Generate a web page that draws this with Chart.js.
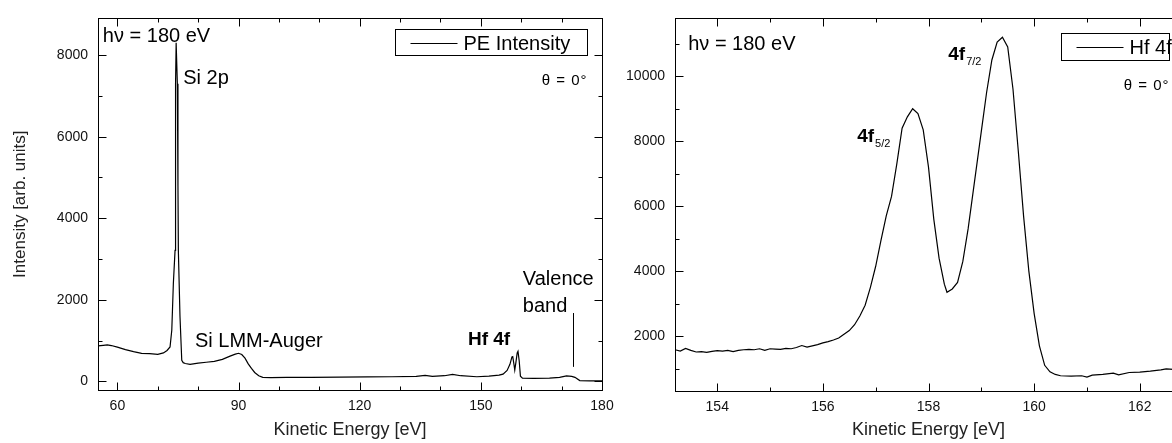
<!DOCTYPE html>
<html>
<head>
<meta charset="utf-8">
<script src="https://cdn.jsdelivr.net/npm/chart.js@4.4.1/dist/chart.umd.min.js"></script>
<style>
  html, body { margin:0; padding:0; background:#fff; overflow:hidden; width:1172px; height:443px; }
  #wrap { position:relative; width:1172px; height:443px; overflow:hidden; }
  #survey { position:absolute; left:0; top:0; }
  #hf { position:absolute; left:620px; top:0; }
</style>
</head>
<body>
<div id="wrap">
  <canvas id="survey" width="640" height="443"></canvas>
  <canvas id="hf" width="600" height="443"></canvas>
</div>
<script>
// survey spectrum (left)
const surveyEnergy = [55.2,56.5,57.5,58.5,60,62,64,66,68,70,71.4,72.3,73.04,73.47,73.86,74.28,74.36,74.45,74.55,74.7,74.85,75.0,75.1,75.5,75.94,76.3,76.8,78,80,82,84,86,87.9,89.2,90,90.8,91.6,92.4,93.2,94,95,96,98,102,108,115,122,128,134,136.2,138,141,143,145,149,152,154.5,155.5,156.5,157.2,157.7,157.9,158.2,158.4,158.7,159.0,159.2,159.5,159.8,160.3,163,167,169.5,171.2,172.5,173.3,174.5,177,180];
const surveyIntensity = [870,885,895,880,840,780,730,690,680,665,700,760,846,1255,2403,3212,3400,7300,8300,8300,7300,4800,3200,1600,520,460,440,420,450,470,490,540,620,670,690,660,570,430,320,220,140,100,95,100,100,105,110,115,125,150,125,140,175,140,115,130,155,180,270,420,600,610,420,280,480,700,740,500,130,80,75,80,100,135,125,100,20,15,15];
const surveyXTicks = [60,90,120,150,180];
const surveyYTicks = [0,2000,4000,6000,8000];

// Hf 4f detail (right)
const hfEnergy = [153.2,153.3,153.4,153.5,153.6,153.7,153.8,153.9,154.0,154.1,154.2,154.3,154.4,154.5,154.6,154.7,154.8,154.9,155.0,155.1,155.2,155.3,155.4,155.5,155.6,155.7,155.8,155.9,156.0,156.1,156.2,156.3,156.4,156.5,156.6,156.7,156.8,156.9,157.0,157.1,157.2,157.3,157.4,157.5,157.6,157.7,157.8,157.9,158.0,158.1,158.2,158.3,158.35,158.45,158.55,158.65,158.75,158.8,158.9,159.0,159.1,159.2,159.3,159.4,159.5,159.6,159.7,159.8,159.9,160.0,160.1,160.2,160.3,160.4,160.5,160.7,160.9,161.0,161.1,161.3,161.5,161.6,161.8,162.0,162.2,162.4,162.5,162.7,162.8];
const hfIntensity = [1580,1540,1620,1560,1510,1520,1500,1530,1550,1540,1560,1520,1560,1580,1590,1580,1610,1560,1610,1600,1590,1620,1610,1650,1710,1660,1700,1740,1790,1830,1880,1940,2060,2170,2350,2620,2950,3500,4150,4950,5700,6300,7300,8400,8750,9000,8850,8350,7200,5600,4400,3600,3350,3450,3650,4300,5300,5900,7100,8300,9500,10500,11050,11200,10900,9600,7700,5700,4000,2700,1700,1100,900,820,780,770,780,740,800,820,860,810,880,890,920,960,990,970,1000];
const hfXTicks = [154,156,158,160,162];
const hfYTicks = [2000,4000,6000,8000,10000];

const FONT = "'Liberation Sans', Arial, sans-serif";

// box round the plot with inward major/minor ticks on all four sides
const frame = {
  id: 'frame',
  afterDatasetsDraw(chart, args, o) {
    const {ctx, chartArea: a} = chart;
    const sx = chart.scales.x, sy = chart.scales.y;
    const L = Math.round(a.left) + 0.5, R = Math.round(a.right) + 0.5;
    const T = Math.round(a.top) + 0.5, B = Math.round(a.bottom) + 0.5;
    ctx.save();
    ctx.strokeStyle = '#000';
    ctx.lineWidth = 1;
    ctx.strokeRect(L, T, R - L, B - T);
    const seg = (x1, y1, x2, y2) => { ctx.beginPath(); ctx.moveTo(x1, y1); ctx.lineTo(x2, y2); ctx.stroke(); };
    const isMajor = (s, v) => s.ticks.some(t => Math.abs(t.value - v) < 1e-6);
    for (let i = Math.ceil(sx.min / o.xMinor); i * o.xMinor <= sx.max + 1e-9; i++) {
      const v = i * o.xMinor;
      const px = Math.round(sx.getPixelForValue(v)) + 0.5;
      const len = isMajor(sx, v) ? 8 : 4;
      seg(px, B, px, B - len);
      seg(px, T, px, T + len);
    }
    for (let i = Math.ceil(sy.min / o.yMinor); i * o.yMinor <= sy.max + 1e-9; i++) {
      const v = i * o.yMinor;
      const py = Math.round(sy.getPixelForValue(v)) + 0.5;
      const len = isMajor(sy, v) ? 8 : 4;
      seg(L, py, L + len, py);
      seg(R, py, R - len, py);
    }
    ctx.restore();
  }
};

// labels, legend box and marker lines
const notes = {
  id: 'notes',
  afterDraw(chart, args, o) {
    const {ctx, chartArea: a} = chart;
    const sx = chart.scales.x, sy = chart.scales.y;
    ctx.save();
    ctx.fillStyle = '#000';
    ctx.strokeStyle = '#000';
    ctx.textBaseline = 'alphabetic';
    (o.texts || []).forEach(n => {
      ctx.font = (n.bold ? 'bold ' : '') + n.size + 'px ' + FONT;
      ctx.textAlign = 'left';
      const px = sx.getPixelForValue(n.x), py = sy.getPixelForValue(n.y);
      ctx.fillText(n.t, px, py);
      if (n.sub) {
        const w = ctx.measureText(n.t).width;
        ctx.font = '11px ' + FONT;
        ctx.fillText(n.sub, px + w + 1, py + 5);
      }
    });
    (o.lines || []).forEach(l => {
      ctx.lineWidth = 1;
      ctx.beginPath();
      ctx.moveTo(Math.round(sx.getPixelForValue(l[0])) + 0.5, sy.getPixelForValue(l[1]));
      ctx.lineTo(Math.round(sx.getPixelForValue(l[2])) + 0.5, sy.getPixelForValue(l[3]));
      ctx.stroke();
    });
    if (o.legend) {
      const g = o.legend;
      const r = Math.round(a.right - g.right) + 0.5, t = Math.round(a.top + g.top) + 0.5;
      const l = r - g.w;
      ctx.lineWidth = 1;
      ctx.strokeRect(l, t, g.w, g.h);
      const my = Math.round(t + g.h / 2);
      ctx.beginPath();
      ctx.moveTo(l + 15, my + 0.5);
      ctx.lineTo(l + 62, my + 0.5);
      ctx.stroke();
      ctx.font = '20px ' + FONT;
      ctx.textAlign = 'left';
      ctx.textBaseline = 'middle';
      ctx.fillText(g.label, l + 68, my + 1);
      ctx.font = '15px ' + FONT;
      ctx.textAlign = 'right';
      ctx.textBaseline = 'alphabetic';
      ctx.letterSpacing = '1px';
      ctx.fillText('\u03b8 = 0\u00b0', r, t + g.h + 29);
      ctx.letterSpacing = '0px';
    }
    ctx.restore();
  }
};

function makeChart(id, cfg) {
  return new Chart(document.getElementById(id), {
    type: 'scatter',
    data: {
      datasets: [{
        label: cfg.label,
        data: cfg.xs.map((x, i) => ({x: x, y: cfg.ys[i]})),
        showLine: true,
        borderColor: '#000',
        borderWidth: 1.2,
        pointRadius: 0,
        tension: 0,
        fill: false
      }]
    },
    options: {
      responsive: false,
      animation: false,
      layout: {padding: cfg.pad},
      plugins: {
        legend: {display: false},
        tooltip: {enabled: false},
        frame: {xMinor: cfg.xMinor, yMinor: cfg.yMinor},
        notes: cfg.notes
      },
      scales: {
        x: {
          type: 'linear', min: cfg.xMin, max: cfg.xMax,
          afterBuildTicks: s => { s.ticks = cfg.xTicks.map(v => ({value: v})); },
          afterFit: s => { s.height = cfg.xH; },
          grid: {display: false, drawTicks: false},
          border: {display: false},
          ticks: {padding: 8, color: '#111', font: {family: FONT, size: 14}, maxRotation: 0, autoSkip: false, callback: v => String(v)},
          title: {display: true, text: 'Kinetic Energy [eV]', color: '#222', font: {family: FONT, size: 18}, padding: {top: 0, bottom: 2}}
        },
        y: {
          type: 'linear', min: cfg.yMin, max: cfg.yMax,
          afterBuildTicks: s => { s.ticks = cfg.yTicks.map(v => ({value: v})); },
          afterFit: s => { s.width = cfg.yW; },
          grid: {display: false, drawTicks: false},
          border: {display: false},
          ticks: {padding: 10, color: '#111', font: {family: FONT, size: 14}, autoSkip: false, callback: v => String(v)},
          title: {display: cfg.yTitle !== '', text: cfg.yTitle, color: '#222', font: {family: FONT, size: 17}, padding: {top: 10, bottom: 0}}
        }
      }
    },
    plugins: [frame, notes]
  });
}

makeChart('survey', {
  label: 'PE Intensity',
  xs: surveyEnergy, ys: surveyIntensity,
  xMin: 55.2, xMax: 180, yMin: -210, yMax: 8900,
  xTicks: surveyXTicks, yTicks: surveyYTicks,
  xMinor: 10, yMinor: 1000,
  xH: 53, yW: 98,
  pad: {left: 0, right: 38, top: 17, bottom: 0},
  yTitle: 'Intensity [arb. units]',
  notes: {
    texts: [
      {t: 'h\u03bd = 180 eV', x: 56.4, y: 8320, size: 20},
      {t: 'Si 2p', x: 76.3, y: 7290, size: 20},
      {t: 'Si LMM-Auger', x: 79.2, y: 846, size: 20},
      {t: 'Hf 4f', x: 146.8, y: 888, size: 19, bold: true},
      {t: 'Valence', x: 160.4, y: 2355, size: 20},
      {t: 'band', x: 160.4, y: 1702, size: 20}
    ],
    lines: [[172.9, 1677, 172.9, 357]],
    legend: {label: 'PE Intensity', right: 15, top: 11, w: 192, h: 26}
  }
});

makeChart('hf', {
  label: 'Hf 4f',
  xs: hfEnergy, ys: hfIntensity,
  xMin: 153.2, xMax: 162.8, yMin: 310, yMax: 11780,
  xTicks: hfXTicks, yTicks: hfYTicks,
  xMinor: 1, yMinor: 1000,
  xH: 52, yW: 55,
  pad: {left: 0, right: 38, top: 18, bottom: 0},
  yTitle: '',
  notes: {
    texts: [
      {t: 'h\u03bd = 180 eV', x: 153.45, y: 10800, size: 20},
      {t: '4f', x: 156.65, y: 7970, size: 19, bold: true, sub: '5/2'},
      {t: '4f', x: 158.375, y: 10490, size: 19, bold: true, sub: '7/2'}
    ],
    lines: [],
    legend: {label: 'Hf 4f', right: 13, top: 15, w: 108, h: 27}
  }
});
</script>
</body>
</html>
